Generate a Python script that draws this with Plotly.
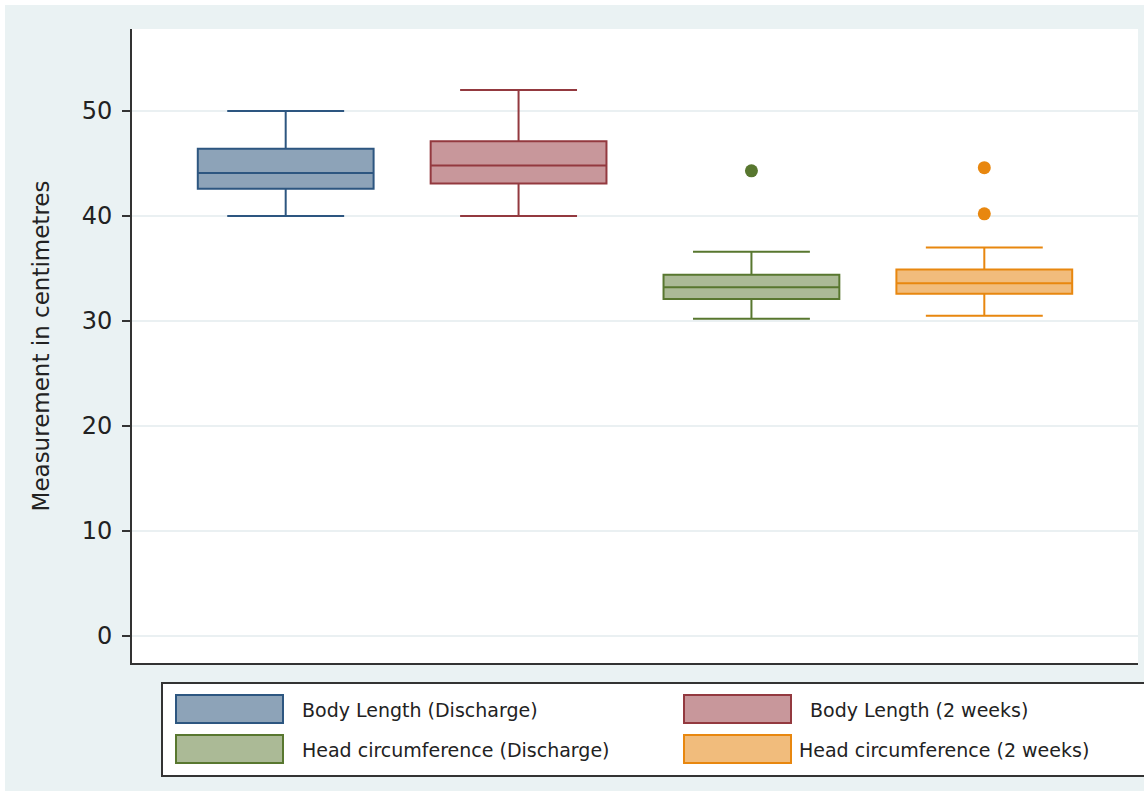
import plotly.graph_objects as go

# ---- data ----
categories = ["Body Length (Discharge)", "Body Length (2 weeks)",
              "Head circumference (Discharge)", "Head circumference (2 weeks)"]
lower_whisker = [40.0, 40.0, 30.2, 30.5]
q1_values = [42.6, 43.1, 32.1, 32.6]
median_values = [44.1, 44.8, 33.2, 33.6]
q3_values = [46.4, 47.1, 34.4, 34.9]
upper_whisker = [50.0, 52.0, 36.6, 37.0]
outliers = [[], [], [44.3], [44.6, 40.2]]
y_ticks = [0, 10, 20, 30, 40, 50]
y_title = "Measurement in centimetres"

line_colors = ["#2d5680", "#93393f", "#58772f", "#e8870f"]
fill_colors = ["#8da3b8", "#c8979b", "#abba96", "#f1bc7c"]

fig = go.Figure()
for i, name in enumerate(categories):
    fig.add_trace(go.Box(
        x=[i], q1=[q1_values[i]], median=[median_values[i]], q3=[q3_values[i]],
        lowerfence=[lower_whisker[i]], upperfence=[upper_whisker[i]],
        name=name, width=0.755, whiskerwidth=0.665, boxpoints=False,
        fillcolor=fill_colors[i], line=dict(color=line_colors[i], width=2),
        showlegend=False, hoverinfo="skip"))
    if outliers[i]:
        fig.add_trace(go.Scatter(
            x=[i] * len(outliers[i]), y=outliers[i], mode="markers",
            marker=dict(symbol="circle", size=13, color=line_colors[i]),
            showlegend=False, hoverinfo="skip"))

# ---- figure geometry ----
W, H = 1144, 791
ml, mr, mt, mb = 132, 6, 29, 128
pw, ph = W - ml - mr, H - mt - mb


def px(x):
    return (x - ml) / pw


def py(y):
    return (H - mb - y) / ph


shapes = []
# white strips at top and left of the outer background
shapes.append(dict(type="rect", xref="paper", yref="paper", x0=px(0), x1=px(W),
                   y0=py(5), y1=py(0), fillcolor="white", line=dict(width=0), layer="below"))
shapes.append(dict(type="rect", xref="paper", yref="paper", x0=px(0), x1=px(5),
                   y0=py(H), y1=py(0), fillcolor="white", line=dict(width=0), layer="below"))
# legend frame
shapes.append(dict(type="rect", xref="paper", yref="paper", x0=px(162), x1=px(1150),
                   y0=py(776), y1=py(683), fillcolor="white",
                   line=dict(color="#333333", width=2)))

annotations = []
legend_pos = [(176, 695), (684, 695), (176, 735), (684, 735)]
text_x = [300, 808, 300, 797]
for i, name in enumerate(categories):
    sx, sy = legend_pos[i]
    shapes.append(dict(type="rect", xref="paper", yref="paper",
                       x0=px(sx), x1=px(sx + 107), y0=py(sy + 28), y1=py(sy),
                       fillcolor=fill_colors[i], line=dict(color=line_colors[i], width=2)))
    annotations.append(dict(xref="paper", yref="paper", x=px(text_x[i]), y=py(sy + 15),
                            text=name, showarrow=False, xanchor="left", yanchor="middle",
                            font=dict(family="DejaVu Sans", size=19, color="#222222")))

fig.update_layout(
    width=W, height=H,
    margin=dict(l=ml, r=mr, t=mt, b=mb),
    paper_bgcolor="#eaf2f3", plot_bgcolor="white",
    shapes=shapes, annotations=annotations,
    font=dict(family="DejaVu Sans", color="#222222"),
)
fig.update_xaxes(range=[-0.66, 3.66], showticklabels=False, ticks="",
                 showgrid=False, zeroline=False, showline=True,
                 linecolor="#333333", linewidth=2)
fig.update_yaxes(range=[-2.57, 57.8], tickvals=y_ticks, ticks="outside", ticklen=8,
                 tickwidth=2, tickcolor="#333333", tickfont=dict(size=24, color="#222222"),
                 ticklabelstandoff=5,
                 showgrid=True, gridcolor="#eaf0f2", gridwidth=2, zeroline=False,
                 showline=True, linecolor="#333333", linewidth=2,
                 title=dict(text=y_title, font=dict(size=23, color="#222222"), standoff=26))

fig.write_html("out.html", config={"displayModeBar": False})

# remove the default page margin so the figure sits at the top-left corner
with open("out.html", "r", encoding="utf-8") as f:
    html = f.read()
html = html.replace("<head>", "<head><style>html,body{margin:0;padding:0;}</style>", 1)
with open("out.html", "w", encoding="utf-8") as f:
    f.write(html)
